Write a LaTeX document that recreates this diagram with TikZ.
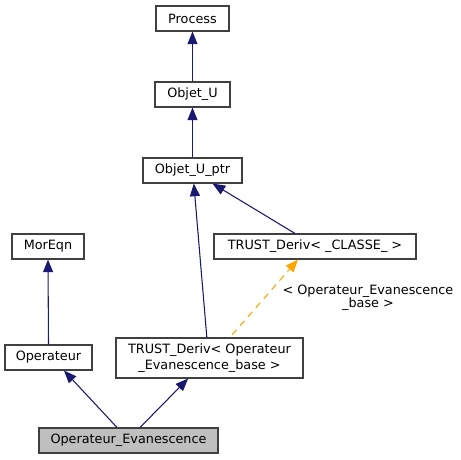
\documentclass[tikz,border=0pt]{standalone}
\usepackage{fontspec}
\setmainfont{DejaVu Sans}
\usetikzlibrary{arrows.meta, positioning}

\begin{document}
\begin{tikzpicture}[x=0.75pt, y=-0.75pt,
  classbox/.style={draw=black!75, fill=white, thick, minimum height=18.75pt, inner sep=1pt, font=\fontsize{9.6}{11.5}\selectfont},
  inherit/.style={draw={rgb,255:red,25;green,25;blue,112}, thick, -{Triangle[length=9.5pt, width=7.5pt]}},
  tmplarg/.style={draw={rgb,255:red,255;green,165;blue,0}, thick, dash pattern=on 5pt off 4pt, -{Triangle[length=9.5pt, width=7.5pt]}}]
\useasboundingbox (0,0) rectangle (461,460);
% class nodes
\node[classbox, minimum width=54.75pt] at (192.5, 18.5) (process) {Process};
\node[classbox, minimum width=56.25pt] at (192.5, 94.5) (objU) {Objet\_U};
\node[classbox, minimum width=74.25pt] at (192.5, 170.5) (objUptr) {Objet\_U\_ptr};
\node[classbox, minimum width=54pt] at (48, 246.5) (moreqn) {MorEqn};
\node[classbox, minimum width=151.5pt] at (315, 246.5) (derivcl) {TRUST\_Deriv< \_CLASSE\_ >};
\node[classbox, minimum width=65.25pt] at (48.5, 357.5) (operateur) {Operateur};
\node[classbox, minimum width=140.25pt, minimum height=30pt, align=center] at (209.5, 358) (derivop) {TRUST\_Deriv< Operateur\\\_Evanescence\_base >};
\node[classbox, minimum width=134.25pt, fill=black!25] at (128.5, 440.5) (opevan) {Operateur\_Evanescence};
% inheritance
\draw[inherit] (objU.north) -- (process.south);
\draw[inherit] (objUptr.north) -- (objU.south);
\draw[inherit] ([xshift=-2pt]derivop.north) -- ([xshift=1pt]objUptr.south);
\draw[inherit] ([xshift=-15pt]derivcl.north) -- ([xshift=15pt]objUptr.south);
\draw[inherit] (operateur.north) -- (moreqn.south);
\draw[inherit] ([xshift=-8.6pt]opevan.north) -- ([xshift=11.6pt]operateur.south);
\draw[inherit] ([xshift=8.6pt]opevan.north) -- ([xshift=-16pt]derivop.south);
% template argument
\draw[tmplarg] ([xshift=17pt, yshift=2pt]derivop.north) -- ([xshift=-12.75pt]derivcl.south);
\node[align=center, inner sep=0pt, font=\fontsize{9.6}{10}\selectfont] at (368, 298) (argtxt) {< Operateur\_Evanescence\\\_base >};
\end{tikzpicture}
\end{document}
